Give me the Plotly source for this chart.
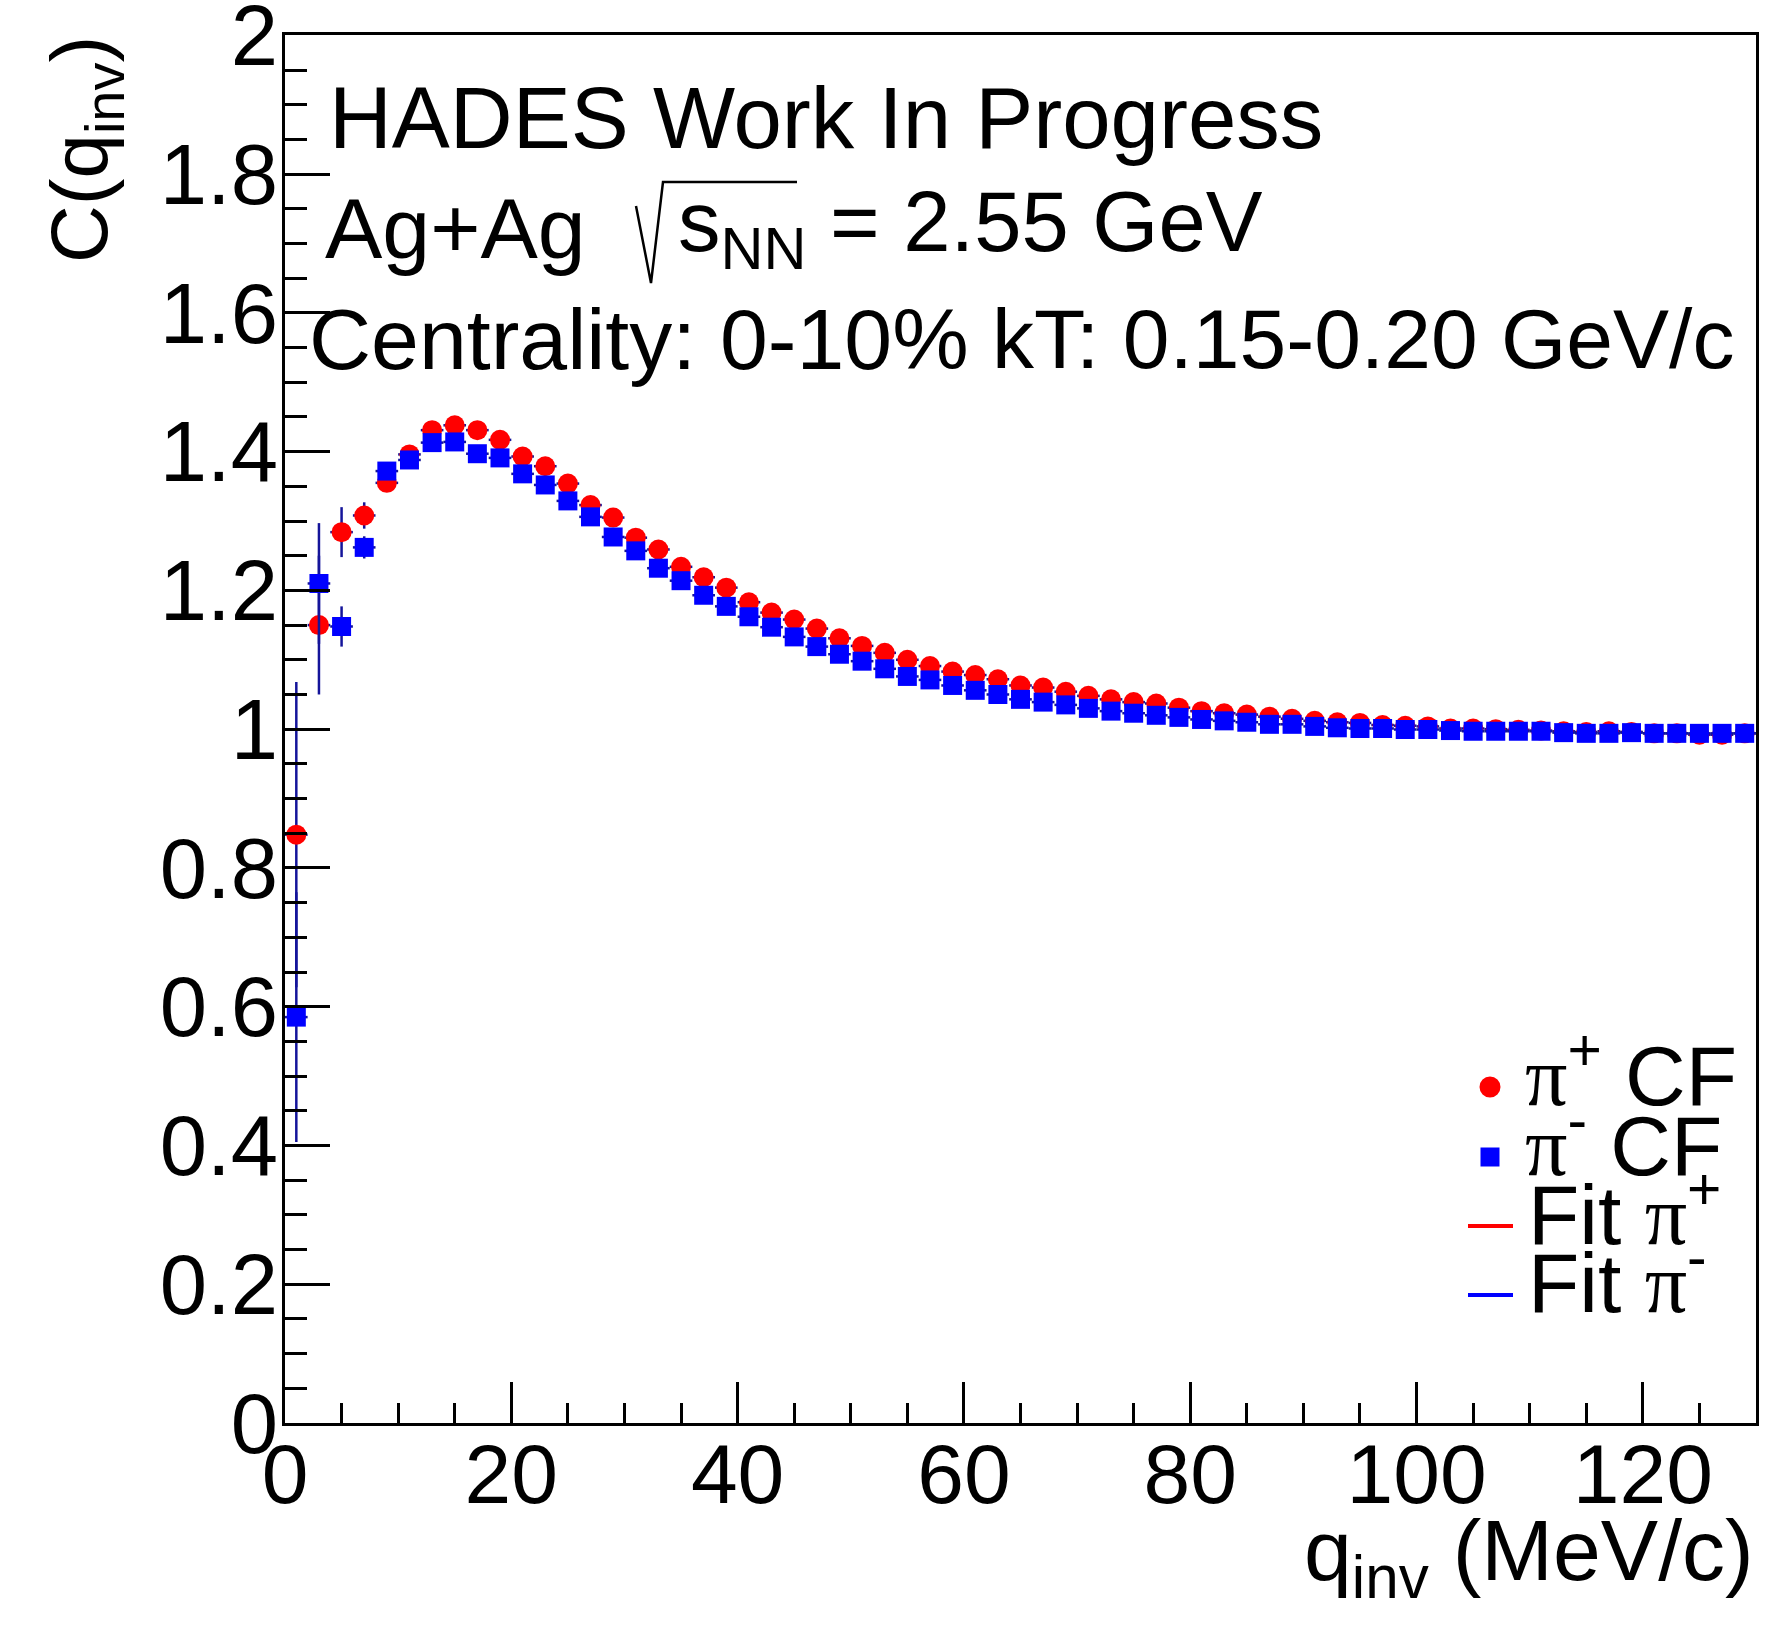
import plotly.graph_objects as go

# q_inv bin centres (MeV/c), 2 MeV/c bins
q_inv = [1, 3, 5, 7, 9, 11, 13, 15, 17, 19, 21, 23, 25, 27, 29, 31, 33, 35, 37, 39,
         41, 43, 45, 47, 49, 51, 53, 55, 57, 59, 61, 63, 65, 67, 69, 71, 73, 75, 77, 79,
         81, 83, 85, 87, 89, 91, 93, 95, 97, 99, 101, 103, 105, 107, 109, 111, 113, 115,
         117, 119, 121, 123, 125, 127, 129]

# pi+ correlation function
cf_pip = [0.848, 1.150, 1.284, 1.308, 1.355, 1.396, 1.431, 1.438, 1.431, 1.417,
          1.393, 1.379, 1.354, 1.323, 1.305, 1.276, 1.259, 1.234, 1.219, 1.204,
          1.183, 1.168, 1.158, 1.145, 1.131, 1.120, 1.110, 1.100, 1.091, 1.083,
          1.078, 1.072, 1.063, 1.060, 1.054, 1.048, 1.043, 1.039, 1.037, 1.031,
          1.026, 1.023, 1.021, 1.018, 1.015, 1.012, 1.010, 1.009, 1.006, 1.005,
          1.004, 1.001, 1.001, 1.000, 0.999, 0.998, 0.997, 0.996, 0.997, 0.996,
          0.994, 0.994, 0.992, 0.992, 0.994]
err_pip = [0.220, 0.100, 0.036, 0.019, 0.012, 0.010, 0.008, 0.007, 0.007, 0.006,
           0.006, 0.005, 0.005, 0.005, 0.005, 0.004, 0.004, 0.004, 0.004, 0.004,
           0.004, 0.004, 0.004, 0.003, 0.003, 0.003, 0.003, 0.003, 0.003, 0.003,
           0.003, 0.003, 0.003, 0.003, 0.003, 0.003, 0.003, 0.003, 0.003, 0.003,
           0.003, 0.003, 0.003, 0.003, 0.003, 0.003, 0.003, 0.003, 0.003, 0.003,
           0.003, 0.003, 0.003, 0.003, 0.003, 0.003, 0.003, 0.003, 0.003, 0.003,
           0.003, 0.003, 0.003, 0.003, 0.003]

# pi- correlation function
cf_pim = [0.585, 1.210, 1.148, 1.262, 1.372, 1.388, 1.413, 1.414, 1.397, 1.391,
          1.368, 1.352, 1.329, 1.306, 1.277, 1.257, 1.232, 1.214, 1.193, 1.177,
          1.162, 1.147, 1.133, 1.119, 1.108, 1.098, 1.087, 1.076, 1.071, 1.063,
          1.056, 1.050, 1.043, 1.039, 1.035, 1.030, 1.026, 1.023, 1.020, 1.017,
          1.014, 1.012, 1.010, 1.007, 1.007, 1.004, 1.002, 1.001, 1.001, 0.9995,
          0.9995, 0.998, 0.997, 0.997, 0.997, 0.997, 0.995, 0.994, 0.994, 0.995,
          0.994, 0.994, 0.994, 0.994, 0.994]
err_pim = [0.180, 0.087, 0.029, 0.016, 0.011, 0.009, 0.008, 0.007, 0.006, 0.006,
           0.005, 0.005, 0.005, 0.004, 0.004, 0.004, 0.004, 0.004, 0.004, 0.003,
           0.003, 0.003, 0.003, 0.003, 0.003, 0.003, 0.003, 0.003, 0.003, 0.003,
           0.003, 0.003, 0.003, 0.003, 0.003, 0.003, 0.003, 0.003, 0.003, 0.003,
           0.003, 0.003, 0.003, 0.003, 0.003, 0.003, 0.003, 0.003, 0.003, 0.003,
           0.003, 0.003, 0.003, 0.003, 0.003, 0.003, 0.003, 0.003, 0.003, 0.003,
           0.003, 0.003, 0.003, 0.003, 0.003]

x_ticks = [0, 20, 40, 60, 80, 100, 120]
x_ticktext = ["0", "20", "40", "60", "80", "100", "120"]
y_ticks = [0, 0.2, 0.4, 0.6, 0.8, 1.0, 1.2, 1.4, 1.6, 1.8, 2.0]
y_ticktext = ["0", "0.2", "0.4", "0.6", "0.8", "1", "1.2", "1.4", "1.6", "1.8", "2"]

W, H = 1788, 1629
L, R, T, B = 285, 32, 35, 206
PW, PH = W - L - R, H - T - B
FONT = "Liberation Sans, Arial, Helvetica, sans-serif"
SERIF = "Liberation Serif"
ERR_COLOR = "#14149a"


def px(xp):
    return (xp - L) / PW


def py(yp):
    return (H - B - yp) / PH


fig = go.Figure()

fig.add_trace(go.Scatter(
    x=q_inv, y=cf_pip, mode="markers", name="pi+ CF",
    marker=dict(symbol="circle", size=20, color="#ff0000", line=dict(width=0)),
    error_y=dict(type="data", array=err_pip, color=ERR_COLOR, thickness=2.5, width=0),
    error_x=dict(type="constant", value=1, color=ERR_COLOR, thickness=2.5, width=0),
    showlegend=False,
))
fig.add_trace(go.Scatter(
    x=q_inv, y=cf_pim, mode="markers", name="pi- CF",
    marker=dict(symbol="square", size=19, color="#0000ff", line=dict(width=0)),
    error_y=dict(type="data", array=err_pim, color=ERR_COLOR, thickness=2.5, width=0),
    error_x=dict(type="constant", value=1, color=ERR_COLOR, thickness=2.5, width=0),
    showlegend=False,
))

pi = f"<span style=\"font-family:{SERIF}\">π</span>"

annotations = [
    dict(text="HADES Work In Progress", x=px(327), y=py(118), xanchor="left",
         yanchor="middle", font=dict(size=87)),
    dict(text="Ag+Ag", x=px(323), y=py(228), xanchor="left", yanchor="middle",
         font=dict(size=86)),
    dict(text="s<sub>NN</sub> = 2.55 GeV", x=px(676), y=py(228), xanchor="left",
         yanchor="middle", font=dict(size=85)),
    dict(text="Centrality: 0-10%", x=px(307), y=py(339), xanchor="left",
         yanchor="middle", font=dict(size=86)),
    dict(text="kT: 0.15-0.20 GeV/c", x=px(990), y=py(339), xanchor="left",
         yanchor="middle", font=dict(size=84)),
    dict(text="C(q<sub>inv</sub>)", x=px(86), y=py(150), xanchor="center",
         yanchor="middle", textangle=-90, font=dict(size=80)),
    dict(text="q<sub>inv</sub> (MeV/c)", x=px(1756), y=py(1556), xanchor="right",
         yanchor="middle", font=dict(size=86)),
    # legend texts
    dict(text=f"{pi}<sup>+</sup> CF", x=px(1523), y=py(1070), xanchor="left",
         yanchor="middle", font=dict(size=84)),
    dict(text=f"{pi}<sup>-</sup> CF", x=px(1523), y=py(1140), xanchor="left",
         yanchor="middle", font=dict(size=84)),
    dict(text=f"Fit {pi}<sup>+</sup>", x=px(1526), y=py(1209), xanchor="left",
         yanchor="middle", font=dict(size=84)),
    dict(text=f"Fit {pi}<sup>-</sup>", x=px(1526), y=py(1277), xanchor="left",
         yanchor="middle", font=dict(size=84)),
]
for a in annotations:
    a.update(xref="paper", yref="paper", showarrow=False)
    a["font"].update(family=FONT, color="black")

shapes = [
    # radical sign over s_NN
    dict(type="path", xref="paper", yref="paper",
         path=(f"M {px(636)},{py(206)} L {px(651)},{py(283)} "
               f"L {px(663)},{py(182)} L {px(797)},{py(182)}"),
         line=dict(color="black", width=2.5)),
    # legend symbols
    dict(type="circle", xref="paper", yref="paper", xsizemode="pixel", ysizemode="pixel",
         xanchor=px(1490), yanchor=py(1087), x0=-10.5, x1=10.5, y0=-10.5, y1=10.5,
         fillcolor="#ff0000", line=dict(width=0)),
    dict(type="rect", xref="paper", yref="paper", xsizemode="pixel", ysizemode="pixel",
         xanchor=px(1490), yanchor=py(1157), x0=-9.5, x1=9.5, y0=-9.5, y1=9.5,
         fillcolor="#0000ff", line=dict(width=0)),
    dict(type="line", xref="paper", yref="paper", x0=px(1468), x1=px(1513),
         y0=py(1226), y1=py(1226), line=dict(color="#ff0000", width=4)),
    dict(type="line", xref="paper", yref="paper", x0=px(1468), x1=px(1513),
         y0=py(1295), y1=py(1295), line=dict(color="#0000ff", width=4)),
]

fig.update_layout(
    width=W, height=H,
    margin=dict(l=L, r=R, t=T, b=B, pad=0, autoexpand=False),
    paper_bgcolor="white", plot_bgcolor="white",
    font=dict(family=FONT, color="black"),
    annotations=annotations,
    shapes=shapes,
    showlegend=False,
)

fig.update_xaxes(
    range=[0, 130], showgrid=False, zeroline=False, automargin=False,
    showline=True, linecolor="black", linewidth=3, mirror=True,
    ticks="inside", ticklen=41, tickwidth=2.5, tickcolor="black",
    tickvals=x_ticks, ticktext=x_ticktext,
    tickfont=dict(size=84, family=FONT, color="black"),
    ticklabelstandoff=-24, ticklabeloverflow="allow",
    minor=dict(ticks="inside", ticklen=20, tickwidth=2.5, tickcolor="black",
               dtick=5, showgrid=False),
)
fig.update_yaxes(
    range=[0, 2.0005], showgrid=False, zeroline=False, automargin=False,
    showline=True, linecolor="black", linewidth=3, mirror=True,
    ticks="inside", ticklen=45, tickwidth=2.5, tickcolor="black",
    tickvals=y_ticks, ticktext=y_ticktext,
    tickfont=dict(size=85, family=FONT, color="black"),
    ticklabelstandoff=-13, ticklabeloverflow="allow",
    minor=dict(ticks="inside", ticklen=22, tickwidth=2.5, tickcolor="black",
               dtick=0.05, showgrid=False),
)

fig.write_html("out.html")
